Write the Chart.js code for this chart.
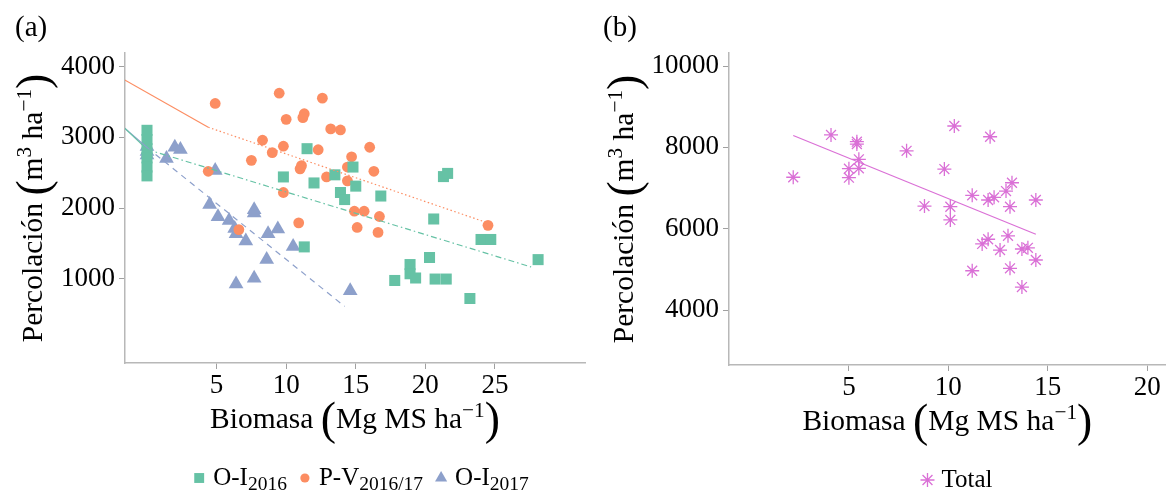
<!DOCTYPE html>
<html>
<head>
<meta charset="utf-8">
<script src="https://cdn.jsdelivr.net/npm/chart.js@4.4.1/dist/chart.umd.min.js"></script>
<style>
  html, body { margin: 0; padding: 0; background: #fff; }
  #wrap { position: relative; width: 1174px; height: 492px; overflow: hidden; }
  #chartA { position: absolute; left: 0; top: 0; width: 600px; height: 492px; }
  #chartB { position: absolute; left: 600px; top: 0; width: 574px; height: 492px; }
</style>
</head>
<body>
<div id="wrap">
  <canvas id="chartA" width="600" height="492"></canvas>
  <canvas id="chartB" width="574" height="492"></canvas>
</div>
<script>
// Panel (a): biomasa vs percolación por campaña
const oi16Biomasa = [0, 0, 0, 0, 0, 0, 9.8, 11.5, 12.0, 13.5, 13.9, 14.2, 11.3, 14.8, 15.0, 16.8,
  21.3, 21.6, 20.6, 24.0, 24.7, 28.1, 20.3, 18.9, 18.9, 19.3, 17.8, 20.7, 21.5, 23.2];
const oi16Perc = [3100, 2970, 2840, 2710, 2580, 2455, 2440, 2840, 2355, 2470, 2220, 2120, 1450, 2580, 2310, 2170,
  2445, 2490, 1845, 1555, 1555, 1270, 1300, 1200, 1070, 1010, 975, 995, 995, 720];

const pvBiomasa = [4.9, 9.5, 12.6, 10.0, 11.3, 11.2, 13.2, 13.9, 8.3, 9.8, 9.0, 12.3, 7.5, 11.0, 11.1, 14.4,
  12.9, 14.4, 4.4, 9.8, 10.9, 6.6, 16.0, 14.7, 16.3, 14.9, 15.6, 16.7, 15.1, 16.6, 24.5];
const pvPerc = [3480, 3625, 3555, 3255, 3335, 3280, 3120, 3105, 2960, 2875, 2785, 2825, 2675, 2555, 2600, 2580,
  2440, 2385, 2520, 2220, 1790, 1695, 2860, 2725, 2520, 1955, 1955, 1880, 1725, 1655, 1755];

const oi17Biomasa = [0, 0, 0, 2.0, 2.4, 1.4, 4.9, 4.5, 5.1, 5.9, 6.3, 6.4, 7.1, 7.7, 7.7, 8.7, 9.4, 8.6, 10.5, 6.4, 7.7, 14.6];
const oi17Perc = [2870, 2800, 2750, 2860, 2830, 2700, 2530, 2050, 1875, 1825, 1710, 1635, 1535, 1975, 1930, 1635, 1705, 1270, 1455, 925, 1005, 830];

// rectas de ajuste: tramo fuera del rango de datos (sólido) y tramo dentro
const fitPvOut = [[-1.6, 3812], [4.4, 3143]];
const fitPvIn = [[4.4, 3143], [24.4, 1795]];
const fitOi16Out = [[-1.6, 3130], [0, 2830]];
const fitOi16In = [[0, 2830], [27.6, 1166]];
const fitOi17Out = [[-1.6, 3130], [0, 2856]];
const fitOi17In = [[0, 2856], [14.2, 608]];

// Panel (b): total
const totBiomasa = [2.2, 4.1, 5.4, 5.4, 5.5, 5.5, 5.0, 5.0, 7.9, 10.3, 12.1, 9.8, 8.8, 10.1, 10.1, 11.2,
  12.0, 12.3, 12.9, 13.2, 13.1, 14.4, 11.7, 12.0, 13.0, 12.6, 13.7, 14.0, 14.4, 11.2, 13.1, 13.7];
const totPerc = [7265, 8305, 8140, 8080, 7705, 7485, 7475, 7255, 7915, 8525, 8260, 7465, 6555, 6540, 6215, 6820,
  6705, 6770, 6925, 7130, 6540, 6705, 5625, 5740, 5825, 5475, 5500, 5530, 5230, 4965, 5025, 4565];
const fitTotal = [[2.2, 8290], [14.4, 5863]];

const xTicksA = [5, 10, 15, 20, 25];
const yTicksA = [1000, 2000, 3000, 4000];
const xTicksB = [5, 10, 15, 20];
const yTicksB = [4000, 6000, 8000, 10000];

const seriesA = [
  { parts: [['O-I', ''], ['2016', 'sub']], color: '#66c2a5', style: 'rect' },
  { parts: [['P-V', ''], ['2016/17', 'sub']], color: '#fc8d62', style: 'circle' },
  { parts: [['O-I', ''], ['2017', 'sub']], color: '#8da0cb', style: 'triangle' }
];
const seriesB = [{ parts: [['Total', '']], color: 'orchid', style: 'star' }];

const yTitle = [['Percolación ', ''], ['(', 'big'], ['m', ''], ['3', 'sup'], [' ha', ''], ['\u22121', 'sup'], [')', 'big']];
const xTitle = [['Biomasa ', ''], ['(', 'big'], ['Mg MS ha', ''], ['\u22121', 'sup'], [')', 'big']];

const SERIF = '"Liberation Serif", "Times New Roman", serif';

function pts(xs, ys) {
  return xs.map((x, i) => ({ x: x, y: ys[i] }));
}
function seg(pairs) {
  return pairs.map(p => ({ x: p[0], y: p[1] }));
}

// texto con super/subíndices y paréntesis grandes
function measureRuns(ctx, parts, size) {
  return parts.map(([t, k]) => {
    let s = size, dy = 0;
    if (k === 'sup') { s = size * 0.72; dy = -size * 0.38; }
    if (k === 'sub') { s = size * 0.78; dy = size * 0.2; }
    if (k === 'big') { s = size * 1.55; dy = size * 0.22; }
    ctx.font = s + 'px ' + SERIF;
    return { t: t, s: s, dy: dy, w: ctx.measureText(t).width };
  });
}
function drawRich(ctx, parts, size, x, y, align) {
  ctx.save();
  ctx.textBaseline = 'alphabetic';
  ctx.textAlign = 'left';
  ctx.fillStyle = '#000';
  const rs = measureRuns(ctx, parts, size);
  const w = rs.reduce((a, r) => a + r.w, 0);
  let cx = align === 'center' ? x - w / 2 : x;
  rs.forEach(r => {
    ctx.font = r.s + 'px ' + SERIF;
    ctx.fillText(r.t, cx, y + r.dy);
    cx += r.w;
  });
  ctx.restore();
  return w;
}

function markerSize(style) {
  return { rect: 7, circle: 4.6, triangle: 7, star: 7 }[style];
}

function decor(cfg) {
  return {
    id: 'decor',
    afterDraw(chart) {
      const ctx = chart.ctx;
      const area = chart.chartArea;
      drawRich(ctx, [[cfg.tag, '']], 29, cfg.tagX, 36, 'left');

      ctx.save();
      ctx.translate(cfg.yTitleX, (area.top + area.bottom) / 2);
      ctx.rotate(-Math.PI / 2);
      drawRich(ctx, yTitle, 29.5, 0, 0, 'center');
      ctx.restore();

      drawRich(ctx, xTitle, 29.5, (area.left + area.right) / 2, cfg.xTitleY, 'center');

      // leyenda
      const items = cfg.series.map(s => {
        const w = measureRuns(ctx, s.parts, 25).reduce((a, r) => a + r.w, 0);
        return { s: s, w: w };
      });
      const gapMark = 8, gapItem = 12, box = 12;
      const total = items.reduce((a, it) => a + box + gapMark + it.w, 0) + gapItem * (items.length - 1);
      let x = cfg.legendX - total / 2;
      items.forEach(it => {
        ctx.save();
        ctx.fillStyle = it.s.color;
        ctx.strokeStyle = it.s.color;
        ctx.lineWidth = 1.3;
        Chart.helpers.drawPoint(ctx, {
          pointStyle: it.s.style, radius: markerSize(it.s.style), rotation: 0,
          borderWidth: it.s.style === 'star' ? 1.3 : 0
        }, x + box / 2, cfg.legendY - 7);
        ctx.restore();
        drawRich(ctx, it.s.parts, 25, x + box + gapMark, cfg.legendY, 'left');
        x += box + gapMark + it.w + gapItem;
      });
    }
  };
}

function axis(min, max, values, fit, pad) {
  return {
    type: 'linear',
    min: min,
    max: max,
    afterBuildTicks: s => { s.ticks = values.map(v => ({ value: v })); },
    afterFit: fit,
    grid: { drawOnChartArea: false, drawTicks: true, tickLength: 6, tickColor: '#a0a0a0', tickWidth: 1 },
    border: { color: '#b8b8b8', width: 1.5 },
    ticks: {
      color: '#000',
      font: { family: SERIF, size: 27 },
      padding: pad,
      maxRotation: 0,
      autoSkip: false,
      callback: v => String(v)
    },
    title: { display: false }
  };
}

function lineSet(pairs, color, dash) {
  return {
    data: seg(pairs), showLine: true, pointRadius: 0, borderColor: color,
    borderWidth: 1.2, borderDash: dash, fill: false
  };
}

const common = {
  responsive: false,
  animation: false,
  events: [],
  plugins: { legend: { display: false }, tooltip: { enabled: false } }
};

new Chart(document.getElementById('chartA'), {
  type: 'scatter',
  data: {
    datasets: [
      lineSet(fitPvOut, '#fc8d62', []),
      lineSet(fitPvIn, '#fc8d62', [1.5, 2.5]),
      lineSet(fitOi16Out, '#66c2a5', []),
      lineSet(fitOi16In, '#66c2a5', [6, 3, 1.5, 3]),
      lineSet(fitOi17Out, '#8da0cb', []),
      lineSet(fitOi17In, '#8da0cb', [6, 5]),
      { data: pts(oi16Biomasa, oi16Perc), pointStyle: 'rect', pointRadius: 7.8, backgroundColor: '#66c2a5', borderWidth: 0 },
      { data: pts(pvBiomasa, pvPerc), pointStyle: 'circle', pointRadius: 5.4, backgroundColor: '#fc8d62', borderWidth: 0 },
      { data: pts(oi17Biomasa, oi17Perc), pointStyle: 'triangle', pointRadius: 8.5, backgroundColor: '#8da0cb', borderWidth: 0 }
    ]
  },
  options: Object.assign({}, common, {
    layout: { padding: { left: 0, right: 15, top: 53, bottom: 0 } },
    scales: {
      x: axis(-1.58, 31.47, xTicksA, s => { s.height = 129; }, 1),
      y: axis(-193, 4194, yTicksA, s => { s.width = 125; }, 4)
    }
  }),
  plugins: [decor({ tag: '(a)', tagX: 15, yTitleX: 42, xTitleY: 428, series: seriesA, legendX: 361, legendY: 485 })]
});

new Chart(document.getElementById('chartB'), {
  type: 'scatter',
  data: {
    datasets: [
      lineSet(fitTotal, 'orchid', []),
      { data: pts(totBiomasa, totPerc), pointStyle: 'star', pointRadius: 7, borderColor: 'orchid', backgroundColor: 'orchid', borderWidth: 1.3 }
    ]
  },
  options: Object.assign({}, common, {
    layout: { padding: { left: 0, right: 0, top: 53, bottom: 0 } },
    scales: {
      x: axis(-1.03, 20.93, xTicksB, s => { s.height = 127; }, 1),
      y: axis(2648, 10320, yTicksB, s => { s.width = 129; }, 4)
    }
  }),
  plugins: [decor({ tag: '(b)', tagX: 3, yTitleX: 33, xTitleY: 430, series: seriesB, legendX: 357, legendY: 487 })]
});
</script>
</body>
</html>
